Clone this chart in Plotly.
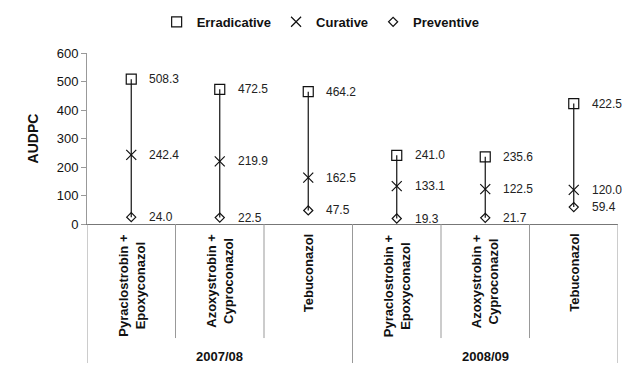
import plotly.graph_objects as go

treatments = ["Pyraclostrobin +<br>Epoxyconazol", "Azoxystrobin +<br>Cyproconazol", "Tebuconazol",
              "Pyraclostrobin +<br>Epoxyconazol", "Azoxystrobin +<br>Cyproconazol", "Tebuconazol"]
seasons = ["2007/08", "2008/09"]
erradicative = [508.3, 472.5, 464.2, 241.0, 235.6, 422.5]
curative = [242.4, 219.9, 162.5, 133.1, 122.5, 120.0]
preventive = [24.0, 22.5, 47.5, 19.3, 21.7, 59.4]
y_ticks = [0, 100, 200, 300, 400, 500, 600]

FONT = "Liberation Sans, Arial, sans-serif"
xs = list(range(len(treatments)))

fig = go.Figure()

# range lines (preventive -> erradicative)
lx, ly = [], []
for i in xs:
    lx += [i, i, None]
    ly += [preventive[i], erradicative[i], None]
fig.add_trace(go.Scatter(x=lx, y=ly, mode="lines", line=dict(color="#111", width=1.2),
                         showlegend=False, hoverinfo="skip"))

series = [
    ("Erradicative", erradicative, "square-open", 10),
    ("Curative", curative, "x-thin-open", 10),
    ("Preventive", preventive, "diamond-open", 7),
]
for name, vals, sym, size in series:
    fig.add_trace(go.Scatter(x=xs, y=vals, mode="markers", name=name,
                             marker=dict(symbol=sym, size=size, color="#111",
                                         line=dict(color="#111", width=1.2))))
    for i, v in zip(xs, vals):
        fig.add_annotation(x=i, y=v, text=f"{v:.1f}", showarrow=False, xanchor="left",
                           xshift=16, font=dict(family=FONT, size=12, color="#222"))

# category labels
for i, t in zip(xs, treatments):
    fig.add_annotation(x=i, y=0, xref="x", yref="paper", text=t, textangle=-90,
                       showarrow=False, xanchor="center", yanchor="top", yshift=-8,
                       font=dict(family=FONT, size=13, color="#111", weight="bold"))
# season labels
for k, s in enumerate(seasons):
    fig.add_annotation(x=1 + 3 * k, y=0, xref="x", yref="paper", text=s, showarrow=False,
                       xanchor="center", yanchor="middle", yshift=-132,
                       font=dict(family=FONT, size=13, color="#111", weight="bold"))

# separators
for b in [-0.5, 0.5, 1.5, 2.5, 3.5, 4.5, 5.5]:
    outer = b in (-0.5, 2.5, 5.5)
    fig.add_shape(type="line", xref="x", yref="paper", x0=b, x1=b, y0=0,
                  y1=-0.813 if outer else -0.667, line=dict(color="#999", width=1))

fig.update_layout(
    width=630, height=362,
    margin=dict(l=79, r=20, t=45, b=146, autoexpand=False),
    paper_bgcolor="white", plot_bgcolor="white",
    font=dict(family=FONT, size=13, color="#111"),
    legend=dict(orientation="h", x=0.44, xanchor="center", y=1.27, yanchor="top",
                font=dict(family=FONT, size=13, color="#111", weight="bold"),
                itemwidth=30, tracegroupgap=0),
)
fig.update_xaxes(range=[-0.5, 5.5], showticklabels=False, showgrid=False, zeroline=False,
                 showline=True, linecolor="#777", linewidth=1, ticks="")
fig.update_yaxes(range=[0, 600], tickvals=y_ticks, showgrid=False, zeroline=False,
                 showline=True, linecolor="#999", linewidth=1, ticks="outside", ticklen=5,
                 tickcolor="#999", tickfont=dict(family=FONT, size=13, color="#111"),
                 automargin=False,
                 title=dict(text="AUDPC", font=dict(family=FONT, size=14, color="#111", weight="bold"),
                            standoff=14))

fig.write_html("out.html")
